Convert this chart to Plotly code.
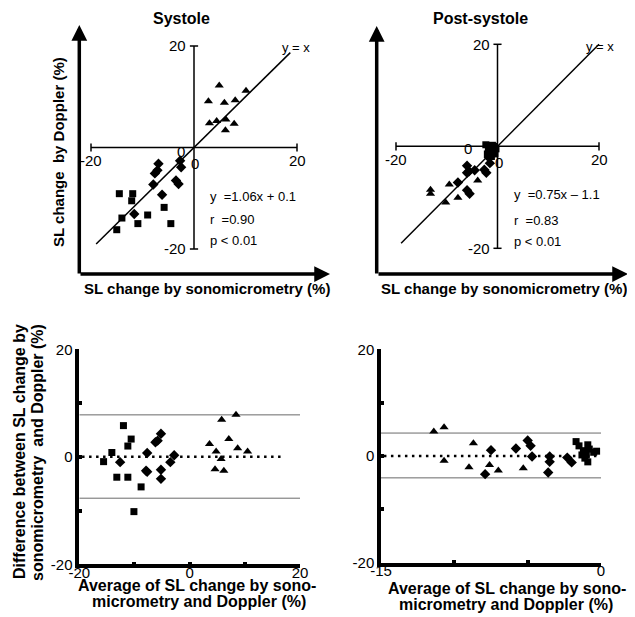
import plotly.graph_objects as go

# The page body has an 8px default margin; lay everything out in page pixels
OFF = 8
W, H = 635 - OFF, 617 - OFF

# ---------------- data ----------------
# Systole: SL change by sonomicrometry (x) vs Doppler (y)
sys_sq_x = [-14.5, -11.9, -12.1, -14.0, -15.0, -10.9, -9.0, -5.8, -4.5]
sys_sq_y = [-9.1, -9.1, -10.5, -13.9, -16.2, -15.0, -13.3, -11.8, -15.0]
sys_di_x = [-6.9, -7.1, -7.6, -7.9, -6.2, -11.6, -2.7, -2.5, -3.5, -3.0]
sys_di_y = [-3.2, -4.5, -5.1, -7.3, -9.3, -13.1, -2.6, -3.9, -6.5, -7.2]
sys_tr_x = [4.9, 2.8, 5.9, 8.0, 10.1, 3.0, 4.4, 6.2, 7.8, 6.1]
sys_tr_y = [12.2, 9.1, 8.8, 9.3, 11.2, 4.8, 5.2, 5.5, 4.7, 3.4]
sys_identity = [-19.0, 18.7]

# Post-systole
ps_tr_x = [-13.2, -13.2, -9.5, -3.9, -7.8, -10.2]
ps_tr_y = [-8.5, -9.3, -7.5, -6.7, -10.1, -11.0]
ps_di_x = [-6.0, -5.6, -6.0, -4.5, -7.8, -6.0, -5.5, -2.6, -2.2, -1.5, -1.7]
ps_di_y = [-3.8, -4.9, -5.2, -4.7, -7.1, -8.6, -9.3, -4.6, -5.2, -3.3, -2.2]
ps_sq_x = [-2.3, -1.8, -1.5, -1.0, -0.8, -0.5, -1.2, -0.3, -2.0, -0.6, -1.4]
ps_sq_y = [0.3, -0.3, -1.0, 0.2, -0.8, -1.5, -2.0, -0.5, -1.5, 0.0, -0.2]
ps_identity = [-19.0, 20.0]

# Bland-Altman, systole
ba_sys_sq_x = [-15.6, -14.1, -12.0, -11.2, -10.6, -13.2, -11.2, -8.8, -10.1]
ba_sys_sq_y = [-0.9, 0.8, 5.8, 2.0, 3.3, -3.8, -3.8, -5.6, -10.2]
ba_sys_di_x = [-12.6, -7.7, -7.9, -7.7, -6.2, -5.8, -5.2, -5.2, -5.2, -3.5, -2.8]
ba_sys_di_y = [-1.0, 0.7, -2.6, -2.8, 2.7, 3.0, 4.3, -2.4, -4.1, -1.0, 0.3]
ba_sys_tr_x = [5.8, 8.4, 7.1, 3.6, 4.8, 8.7, 10.5, 5.7, 4.6, 6.2]
ba_sys_tr_y = [6.9, 7.8, 3.3, 2.4, 1.0, 1.6, 1.0, -0.4, -2.3, -2.6]
ba_sys_mean = 0.0
ba_sys_loa = [7.8, -7.7]
ba_sys_xspan = [-20, 20]
ba_sys_meanspan = [-19.5, 17]

# Bland-Altman, post-systole
ba_ps_tr_x = [-11.4, -10.7, -10.7, -8.7, -9.0, -7.6, -7.0, -5.3]
ba_ps_tr_y = [4.6, 5.4, -0.9, 2.4, -2.1, -1.7, -2.7, -2.3]
ba_ps_di_x = [-7.5, -7.9, -5.8, -5.0, -4.8, -4.7, -3.5, -3.5, -3.6, -2.3, -2.0]
ba_ps_di_y = [1.1, -3.4, 1.4, 2.9, 1.9, -0.1, -0.1, -1.1, -3.1, -0.3, -1.2]
ba_ps_sq_x = [-1.7, -1.5, -1.2, -0.9, -0.8, -1.3, -1.0, -0.9, -0.3, -0.5, -1.1]
ba_ps_sq_y = [2.7, 1.9, 1.0, 2.1, 1.3, 0.2, 0.2, -1.1, 0.9, 0.7, -0.4]
ba_ps_mean = 0.0
ba_ps_loa = [4.3, -4.1]
ba_ps_xspan = [-15, 0]
ba_ps_meanspan = [-14.8, -0.3]

sys_stats = ["y  =1.06x + 0.1", "r  =0.90", "p < 0.01"]
ps_stats = ["y  =0.75x \u2013 1.1", "r  =0.83", "p < 0.01"]

FONT = "Liberation Sans, Arial, sans-serif"


# ---------------- helpers ----------------
def px_x(p):
    return (p - OFF) / W


def px_y(p):
    return 1 - (p - OFF) / H


def rng(pa, va, pb, vb, d0, d1):
    s = (pb - pa) / (vb - va)
    return [va + (d0 - pa) / s, va + (d1 - pa) / s]


fig = go.Figure()

MK = dict(color="black", line=dict(width=0))


def add_pts(x, y, sym, size, xa, ya):
    fig.add_trace(go.Scatter(x=x, y=y, mode="markers", xaxis=xa, yaxis=ya,
                             marker=dict(symbol=sym, size=size, **MK),
                             cliponaxis=False, hoverinfo="skip"))


# ---------- top-left: Systole ----------
add_pts(sys_sq_x, sys_sq_y, "square", 7, "x", "y")
add_pts(sys_di_x, sys_di_y, "diamond", 8, "x", "y")
add_pts(sys_tr_x, sys_tr_y, "triangle-up", 8, "x", "y")
fig.add_trace(go.Scatter(x=sys_identity, y=sys_identity, mode="lines", xaxis="x", yaxis="y",
                         line=dict(color="black", width=1.5), hoverinfo="skip"))

# ---------- top-right: Post-systole ----------
add_pts(ps_tr_x, ps_tr_y, "triangle-up", 8, "x2", "y2")
add_pts(ps_di_x, ps_di_y, "diamond", 8, "x2", "y2")
add_pts(ps_sq_x, ps_sq_y, "square", 7, "x2", "y2")
fig.add_trace(go.Scatter(x=ps_identity, y=ps_identity, mode="lines", xaxis="x2", yaxis="y2",
                         line=dict(color="black", width=1.5), hoverinfo="skip"))

# ---------- bottom-left: BA systole ----------
for v in ba_sys_loa:
    fig.add_trace(go.Scatter(x=ba_sys_xspan, y=[v, v], mode="lines", xaxis="x3", yaxis="y3",
                             line=dict(color="#6a6a6a", width=1), hoverinfo="skip"))
fig.add_trace(go.Scatter(x=ba_sys_meanspan, y=[ba_sys_mean] * 2, mode="lines", xaxis="x3", yaxis="y3",
                         line=dict(color="black", width=2.5, dash="2.5px,4.5px"), hoverinfo="skip"))
add_pts(ba_sys_sq_x, ba_sys_sq_y, "square", 7, "x3", "y3")
add_pts(ba_sys_di_x, ba_sys_di_y, "diamond", 8, "x3", "y3")
add_pts(ba_sys_tr_x, ba_sys_tr_y, "triangle-up", 8, "x3", "y3")

# ---------- bottom-right: BA post-systole ----------
for v in ba_ps_loa:
    fig.add_trace(go.Scatter(x=ba_ps_xspan, y=[v, v], mode="lines", xaxis="x4", yaxis="y4",
                             line=dict(color="#6a6a6a", width=1), hoverinfo="skip"))
fig.add_trace(go.Scatter(x=ba_ps_meanspan, y=[ba_ps_mean] * 2, mode="lines", xaxis="x4", yaxis="y4",
                         line=dict(color="black", width=2.5, dash="2.5px,4.5px"), hoverinfo="skip"))
add_pts(ba_ps_tr_x, ba_ps_tr_y, "triangle-up", 8, "x4", "y4")
add_pts(ba_ps_di_x, ba_ps_di_y, "diamond", 8, "x4", "y4")
add_pts(ba_ps_sq_x, ba_ps_sq_y, "square", 7, "x4", "y4")

# ---------------- axes ----------------
hidden = dict(visible=False, showgrid=False, zeroline=False, automargin=False)

TL_X = (82, 322)
TL_Y = (28, 268)
TR_X = (380, 632)
TR_Y = (28, 268)

fig.update_layout(
    xaxis=dict(domain=[px_x(TL_X[0]), px_x(TL_X[1])], range=rng(91, -20, 297, 20, *TL_X), **hidden),
    yaxis=dict(domain=[px_y(TL_Y[1]), px_y(TL_Y[0])], range=rng(249, -20, 46, 20, TL_Y[1], TL_Y[0]), **hidden),
    xaxis2=dict(domain=[px_x(TR_X[0]), px_x(TR_X[1])], range=rng(396, -20, 599, 20, *TR_X), **hidden),
    yaxis2=dict(domain=[px_y(TR_Y[1]), px_y(TR_Y[0])], range=rng(248.3, -20, 44.3, 20, TR_Y[1], TR_Y[0]), **hidden),
)

ba_axis = dict(showline=True, linewidth=3.5, linecolor="black", showgrid=False, zeroline=False,
               ticks="inside", ticklen=3, tickwidth=4, tickcolor="black", automargin=False,
               tickfont=dict(family=FONT, size=15, color="black"))

fig.update_layout(
    xaxis3=dict(domain=[px_x(79.3), px_x(300)], range=[-20, 20], anchor="y3", ticklabelstandoff=-8,
                tickvals=[-20, -10, 0, 10, 20], ticktext=["-20", "", "0", "", "20"], **ba_axis),
    yaxis3=dict(domain=[px_y(564.3), px_y(349.3)], range=[-20, 20], anchor="x3",
                tickvals=[-20, -10, 0, 10, 20], ticktext=["-20", "", "0", "", "20"], **ba_axis),
    xaxis4=dict(domain=[px_x(381), px_x(601)], range=[-15, 0], anchor="y4", ticklabelstandoff=-8,
                tickvals=[-15, -10, -5, 0], ticktext=["-15", "", "", "0"], **ba_axis),
    yaxis4=dict(domain=[px_y(562.7), px_y(349.3)], range=[-20, 20], anchor="x4",
                tickvals=[-20, -10, 0, 10, 20], ticktext=["-20", "", "0", "", "20"], **ba_axis),
)

# ---------------- cross axes in top panels (shapes in data coords) ----------------
shapes = []
for xr, yr in (("x", "y"), ("x2", "y2")):
    ln = dict(color="black", width=1.5)
    shapes.append(dict(type="line", xref=xr, yref=yr, x0=-20, x1=20, y0=0, y1=0, line=ln))
    shapes.append(dict(type="line", xref=xr, yref=yr, x0=0, x1=0, y0=-20, y1=20, line=ln))
    for v in (-20, 20):
        shapes.append(dict(type="line", xref=xr, yref=yr, x0=v, x1=v, y0=-0.8, y1=0.8, line=ln))
        shapes.append(dict(type="line", xref=xr, yref=yr, x0=-0.8, x1=0.8, y0=v, y1=v, line=ln))
fig.update_layout(shapes=shapes)

# ---------------- annotations ----------------
ann = []


def txt(text, x, y, size=14, xanchor="center", yanchor="middle", xref="paper", yref="paper",
        xshift=0, yshift=0, angle=0, bold=False):
    t = f"<b>{text}</b>" if bold else text
    ann.append(dict(text=t, x=x, y=y, xref=xref, yref=yref, xanchor=xanchor, yanchor=yanchor,
                    xshift=xshift, yshift=yshift, textangle=angle, showarrow=False,
                    font=dict(family=FONT, size=size, color="black")))


# tick labels for the crossing axes
for xr, yr, y0shift, y0x in (("x", "y", -4, -7), ("x2", "y2", -2, -24)):
    txt("20", 0, 20, 15, "right", "middle", xr, yr, xshift=-6)
    txt("-20", 0, -20, 15, "right", "middle", xr, yr, xshift=-6)
    txt("0", 0, 0, 15, "right", "middle", xr, yr, xshift=y0x, yshift=y0shift)
    txt("-20", -20, 0, 15, "center", "middle", xr, yr, yshift=-13)
    txt("20", 20, 0, 15, "center", "middle", xr, yr, yshift=-13)
    txt("0", 0, 0, 15, "center", "middle", xr, yr, xshift=1, yshift=-16)

# titles
txt("Systole", px_x(181), px_y(19), 16, bold=True)
txt("Post-systole", px_x(480), px_y(19), 16, bold=True)

# y = x labels
txt("y = x", px_x(295.5), px_y(47), 13)
txt("y = x", px_x(600), px_y(46), 13)

# stats
for s, yy in zip(sys_stats, (196.7, 219, 240.7)):
    txt(s, px_x(208), px_y(yy), 13, xanchor="left")
for s, yy in zip(ps_stats, (194, 220, 241)):
    txt(s, px_x(511.7), px_y(yy), 13, xanchor="left")

# axis titles (top)
txt("SL change  by Doppler (%)", px_x(59), px_y(152), 15, angle=-90, bold=True)
txt("SL change by sonomicrometry (%)", px_x(207), px_y(288), 15, bold=True)
txt("SL change by sonomicrometry (%)", px_x(504), px_y(288), 15, bold=True)

# axis titles (bottom), one annotation per line for tight leading
txt("Difference between SL change by", px_x(19), px_y(452), 16, angle=-90, bold=True)
txt("sonomicrometry  and Doppler (%)", px_x(37), px_y(453), 16, angle=-90, bold=True)
txt("Average of SL change by sono-", px_x(197), px_y(585), 16, bold=True)
txt("micrometry and Doppler (%)", px_x(199), px_y(601), 16, bold=True)
txt("Average of SL change by sono-", px_x(507), px_y(588), 16, bold=True)
txt("micrometry and Doppler (%)", px_x(506), px_y(604), 16, bold=True)

# thick arrow axes framing the top panels
for (tx, ty, ax, ay) in ((79.3, 25, 0, 250), (330, 274, -251, 0),
                         (376.7, 26, 0, 249), (628, 274, -251, 0)):
    ann.append(dict(x=px_x(tx), y=px_y(ty), xref="paper", yref="paper", ax=ax, ay=ay,
                    axref="pixel", ayref="pixel", text="", showarrow=True, arrowhead=2,
                    arrowsize=0.9, arrowwidth=3.5, arrowcolor="black", standoff=0, startstandoff=0))

fig.update_layout(annotations=ann)

fig.update_layout(width=W, height=H, margin=dict(l=0, r=0, t=0, b=0, autoexpand=False),
                  template="none",
                  paper_bgcolor="white", plot_bgcolor="white", showlegend=False,
                  font=dict(family=FONT, color="black"))

fig.write_html("out.html")
